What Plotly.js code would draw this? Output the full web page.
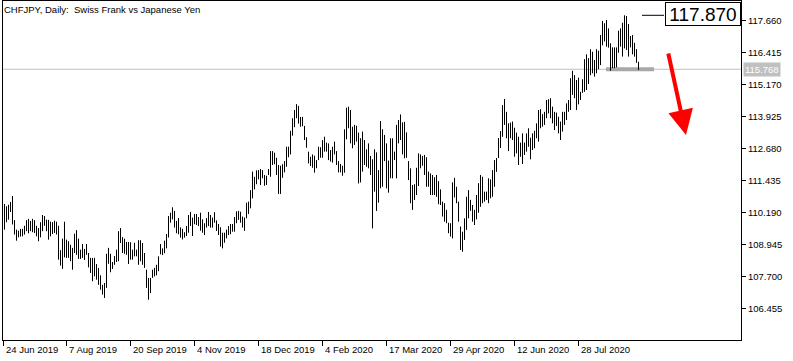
<!DOCTYPE html>
<html>
<head>
<meta charset="utf-8">
<script src="https://cdn.plot.ly/plotly-3.0.1.min.js"></script>
<style>html,body{margin:0;padding:0;background:#fff;}#chart{width:793px;height:361px;}</style>
</head>
<body>
<div id="chart"></div>
<script>
// Daily CHFJPY bars (high / low)
const highs = [
110.52,110.43,110.49,110.60,110.83,109.89,109.52,109.48,109.55,109.55,
109.67,109.89,109.94,109.86,109.94,109.89,109.67,109.58,109.81,110.09,
110.05,109.91,109.90,109.83,109.81,109.87,109.83,109.67,108.72,109.17,
109.83,109.13,109.07,108.93,108.81,109.36,109.50,109.17,108.74,108.96,
108.77,108.96,108.61,108.42,108.42,108.42,108.18,108.03,107.74,107.37,
107.44,108.58,108.81,108.58,108.26,108.49,108.74,109.46,109.58,109.23,
109.17,109.04,109.04,109.03,108.74,109.01,108.74,109.11,109.11,109.00,
108.61,107.96,107.64,107.64,107.96,108.03,108.15,108.48,108.96,108.79,
109.09,109.35,110.05,110.18,110.39,110.25,109.86,109.97,109.61,109.55,
109.42,109.66,110.09,110.21,109.99,110.13,110.13,110.01,110.18,109.92,
109.77,109.97,110.21,110.09,109.99,110.20,109.88,109.74,109.61,109.40,
109.40,109.52,109.66,109.74,109.74,110.01,110.23,110.25,110.22,110.03,
109.99,110.57,110.61,111.06,111.78,111.58,111.83,111.84,111.88,111.84,
111.65,111.62,111.88,112.58,112.58,112.52,112.32,112.04,112.01,112.07,
112.19,112.75,112.75,113.37,113.86,114.18,114.41,114.34,113.91,113.91,
113.56,113.12,112.56,112.36,112.45,112.40,112.23,112.75,112.73,113.01,
113.14,112.91,112.88,112.62,112.75,112.95,112.58,112.19,112.08,112.01,
113.43,114.27,114.31,114.18,113.53,113.60,113.57,113.30,113.08,113.34,
113.01,112.65,112.88,112.39,112.26,112.65,112.53,111.84,113.75,113.43,
113.21,112.88,112.21,113.08,113.08,112.56,113.60,113.79,114.01,113.70,
113.72,113.31,112.19,111.91,111.26,111.29,111.93,112.49,112.45,112.39,
112.43,112.34,111.78,111.71,111.65,111.56,111.65,111.41,111.09,110.61,
110.55,110.29,109.79,109.77,111.36,111.54,111.19,110.61,109.64,109.44,
109.96,110.80,111.06,110.68,110.48,110.29,110.87,111.33,111.65,111.58,
111.00,111.00,111.52,111.48,111.84,112.23,112.31,113.09,113.36,114.37,
114.61,114.11,113.66,113.69,113.73,113.49,113.30,113.14,112.91,113.27,
112.91,113.27,113.47,113.10,113.27,113.37,113.66,114.18,114.21,114.02,
114.11,114.57,114.60,114.64,114.31,114.11,114.08,113.92,113.73,114.11,
114.11,114.44,114.57,115.42,115.71,115.54,115.35,115.44,114.89,115.38,
116.16,116.35,116.20,116.55,116.45,116.13,116.55,116.49,117.10,117.65,
117.56,117.69,117.36,116.78,116.62,116.62,116.62,117.27,117.36,117.58,
117.87,117.84,117.53,117.06,117.10,116.80,116.55,116.06
];
const lows = [
109.52,109.81,109.91,110.21,109.72,109.33,109.09,109.22,109.25,109.26,
109.33,109.46,109.38,109.46,109.42,109.39,109.26,109.07,109.22,109.46,
109.67,109.46,109.13,109.26,109.35,109.39,109.33,108.35,108.12,107.99,
108.44,108.42,108.42,108.29,107.96,108.61,108.54,108.38,108.38,108.42,
108.34,108.54,108.05,107.83,107.51,107.70,107.57,107.37,107.18,106.99,
106.86,107.25,108.19,107.86,107.99,108.15,108.26,108.29,109.00,108.61,
108.58,108.54,108.18,108.35,108.35,108.48,108.48,108.15,108.29,108.15,
108.03,107.25,106.79,107.05,107.64,107.70,107.74,107.90,108.56,108.53,
108.60,108.79,109.21,109.79,109.92,109.60,109.38,109.34,109.21,109.14,
109.21,109.27,109.40,109.66,109.27,109.73,109.70,109.66,109.48,109.40,
109.31,109.60,109.66,109.60,109.60,109.79,109.47,109.31,108.86,108.79,
109.01,109.18,109.31,109.34,109.44,109.44,109.77,109.90,109.79,109.60,
109.47,109.96,110.13,110.35,110.74,111.09,111.29,111.48,111.26,111.52,
111.23,111.26,111.65,111.58,112.04,112.07,111.65,110.91,110.91,111.54,
111.75,111.97,112.34,112.45,113.18,113.51,113.86,113.65,113.53,113.55,
113.01,112.71,112.10,112.00,111.93,111.74,111.91,112.23,112.32,112.32,
112.56,112.56,112.23,112.17,112.13,112.45,112.04,111.75,111.75,111.62,
111.74,113.04,113.47,112.88,112.69,112.82,112.95,111.32,111.36,111.78,
112.04,111.97,111.91,111.65,109.57,111.00,110.25,110.57,111.13,111.19,
112.19,111.13,110.96,111.52,111.52,112.23,111.52,112.88,113.01,112.45,
112.30,112.32,111.45,110.55,110.29,110.68,110.87,111.22,111.91,112.01,
111.65,111.19,111.19,110.87,110.87,110.87,110.80,110.51,110.48,110.03,
109.83,109.77,109.38,109.25,109.18,110.77,110.55,109.83,108.73,108.66,
109.12,109.51,109.96,110.25,109.83,109.70,109.92,110.18,110.41,110.55,
110.61,110.68,110.55,110.74,110.80,111.19,111.77,112.31,112.70,113.14,
113.60,113.08,112.58,113.08,113.01,112.36,112.49,112.04,112.36,112.08,
112.43,112.56,112.75,112.26,112.62,112.69,113.08,112.95,113.47,113.53,
113.60,113.86,114.05,113.86,113.66,113.40,113.56,113.27,113.01,113.34,
113.60,113.79,114.11,114.18,114.77,114.64,114.18,114.40,114.57,114.85,
114.89,114.96,115.19,115.54,115.61,115.48,115.61,115.77,115.93,116.70,
116.85,116.65,116.61,115.71,115.81,115.81,115.84,116.41,116.65,116.26,
116.58,116.52,116.26,116.62,116.35,116.26,116.02,115.74
];
const dateLabels = ['24 Jun 2019','7 Aug 2019','20 Sep 2019','4 Nov 2019','18 Dec 2019','4 Feb 2020','17 Mar 2020','29 Apr 2020','12 Jun 2020','28 Jul 2020'];
const dateIdx = [-0.5, 31, 63, 95, 127, 159, 191, 223, 255, 287];
const priceTicks = [106.455, 107.700, 108.945, 110.190, 111.435, 112.680, 113.925, 115.170, 116.415, 117.660];
const currentPrice = 115.768;
const highLabel = 117.870;
const arrowFrom = {i: 331.75, p: 116.44};
const arrowTo = {i: 340.75, p: 113.21};

const FONT = 'Liberation Sans, Arial, sans-serif';

const xs = [], ys = [];
for (let i = 0; i < highs.length; i++) {
  xs.push(i, i, null);
  ys.push(lows[i], highs[i], null);
}

const trace = {
  type: 'scatter', mode: 'lines', x: xs, y: ys,
  line: {color: '#000000', width: 1}, connectgaps: false, hoverinfo: 'skip'
};

const annotations = dateLabels.map((t, k) => ({
  xref: 'x', yref: 'paper', x: dateIdx[k], y: 0, xanchor: 'left', yanchor: 'top',
  xshift: 0, yshift: -2, text: t, showarrow: false,
  font: {family: FONT, size: 9.5, color: '#000'}
}));

annotations.push({
  xref: 'paper', yref: 'y', x: 1, y: highLabel, xanchor: 'right', yanchor: 'middle',
  yshift: 1, text: highLabel.toFixed(3), showarrow: false,
  font: {family: FONT, size: 19, color: '#000'},
  bgcolor: '#ffffff', bordercolor: '#000000', borderwidth: 1, borderpad: 0,
  width: 74, height: 22
});
annotations.push({
  xref: 'paper', yref: 'y', x: 1, y: currentPrice, xanchor: 'left', yanchor: 'middle',
  xshift: 2, text: currentPrice.toFixed(3), showarrow: false,
  font: {family: FONT, size: 9.5, color: '#ffffff'},
  bgcolor: '#c0c0c0', borderpad: 1
});
annotations.push({
  xref: 'x', yref: 'y', x: arrowTo.i, y: arrowTo.p,
  axref: 'x', ayref: 'y', ax: arrowFrom.i, ay: arrowFrom.p,
  text: '', showarrow: true, arrowhead: 2, arrowsize: 1.25, arrowwidth: 4,
  arrowcolor: '#ff0000', standoff: 0
});

const layout = {
  width: 793, height: 361,
  margin: {l: 3, r: 52, t: 1, b: 21, pad: 0},
  paper_bgcolor: '#ffffff', plot_bgcolor: '#ffffff',
  showlegend: false,
  title: {
    text: 'CHFJPY, Daily:  Swiss Frank vs Japanese Yen',
    font: {family: FONT, size: 9.5, color: '#000'},
    xref: 'container', x: 4 / 793, xanchor: 'left',
    yref: 'container', y: 1 - 10 / 361, yanchor: 'middle'
  },
  xaxis: {
    range: [-0.75, 368.25], showgrid: false, zeroline: false,
    showline: true, mirror: true, linecolor: '#000', linewidth: 1,
    ticks: 'outside', ticklen: 5, tickcolor: '#000', tickwidth: 1,
    tickmode: 'array', tickvals: dateIdx, showticklabels: false, fixedrange: true
  },
  yaxis: {
    side: 'right', range: [105.221, 118.427], showgrid: false, zeroline: false,
    showline: true, mirror: true, linecolor: '#000', linewidth: 1,
    ticks: 'outside', ticklen: 4, tickcolor: '#000', tickwidth: 1,
    tickmode: 'array', tickvals: priceTicks, tickformat: '.3f',
    tickfont: {family: FONT, size: 9.5, color: '#000'}, fixedrange: true
  },
  shapes: [
    {type: 'line', xref: 'paper', yref: 'y', x0: 0, x1: 1, y0: currentPrice, y1: currentPrice,
     line: {color: '#c0c0c0', width: 1}, layer: 'below'},
    {type: 'line', xref: 'x', yref: 'y', x0: 300.75, x1: 324.75, y0: currentPrice, y1: currentPrice,
     line: {color: '#a8a8a8', width: 4}, layer: 'below'},
    {type: 'line', xref: 'x', yref: 'y', x0: 318.75, x1: 329.75, y0: highLabel, y1: highLabel,
     line: {color: '#000', width: 1}}
  ],
  annotations: annotations
};

Plotly.newPlot('chart', [trace], layout, {displayModeBar: false, staticPlot: true});
</script>
</body>
</html>
